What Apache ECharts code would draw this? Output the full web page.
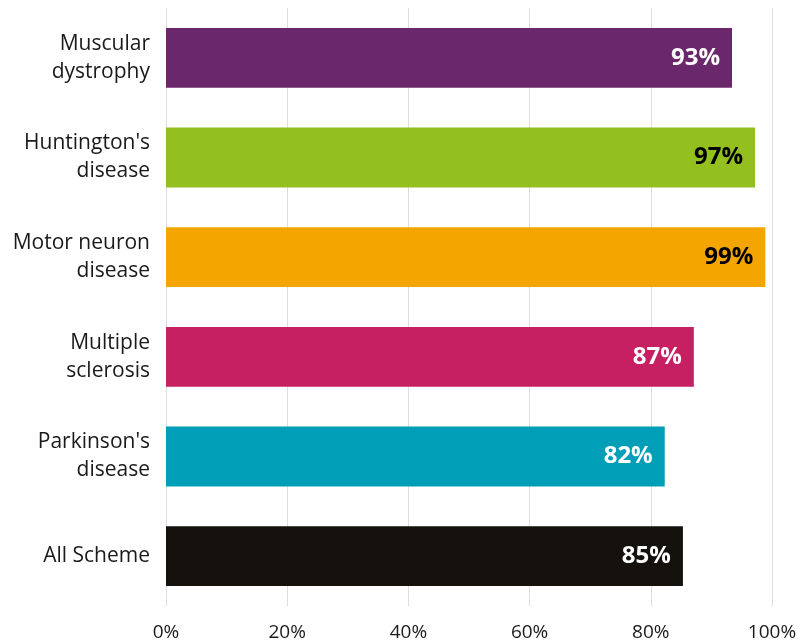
<!DOCTYPE html>
<html>
<head>
<meta charset="utf-8">
<script src="https://cdn.jsdelivr.net/npm/echarts@6/dist/echarts.min.js"></script>
<style>html,body{margin:0;padding:0;background:#fff}#c{width:800px;height:642px}</style>
</head>
<body>
<div id="c"></div>
<script>
const categories = ["Muscular\ndystrophy", "Huntington's\ndisease", "Motor neuron\ndisease", "Multiple\nsclerosis", "Parkinson's\ndisease", "All Scheme"];
const values = [93.4, 97.2, 98.9, 87.1, 82.3, 85.3];
const barColors = ["#6a276b", "#93c01f", "#f5a500", "#c62062", "#009fb7", "#15120d"];
const labelColors = ["#ffffff", "#000000", "#000000", "#ffffff", "#ffffff", "#ffffff"];
const xTicks = [0, 20, 40, 60, 80, 100];

const chart = echarts.init(document.getElementById('c'));
chart.setOption({
  animation: false,
  grid: { left: 166, right: 28, top: 8, bottom: 34, containLabel: false },
  xAxis: {
    type: 'value', min: 0, max: 100, interval: 20,
    axisLine: { show: false }, axisTick: { show: false },
    splitLine: { show: true, lineStyle: { color: '#dddddd', width: 1 } },
    axisLabel: { formatter: v => xTicks.includes(v) ? v + '%' : '', color: '#1a1a1a', fontSize: 19, fontFamily: 'Open Sans', margin: 17 }
  },
  yAxis: {
    type: 'category', data: categories, inverse: true,
    axisLine: { show: false }, axisTick: { show: false },
    axisLabel: { color: '#1a1a1a', fontSize: 21, fontFamily: 'Open Sans', lineHeight: 28, margin: 16, align: 'right', padding: [4, 0, 0, 0] }
  },
  series: [{
    type: 'bar',
    barCategoryGap: '40%',
    data: values.map((v, i) => ({
      value: v,
      itemStyle: { color: barColors[i] },
      label: { color: labelColors[i] }
    })),
    label: {
      show: true, position: 'insideRight', distance: 12,
      fontSize: 24, fontWeight: 'bold', fontFamily: 'Open Sans',
      formatter: p => Math.round(p.value) + '%'
    }
  }]
});
</script>
</body>
</html>
